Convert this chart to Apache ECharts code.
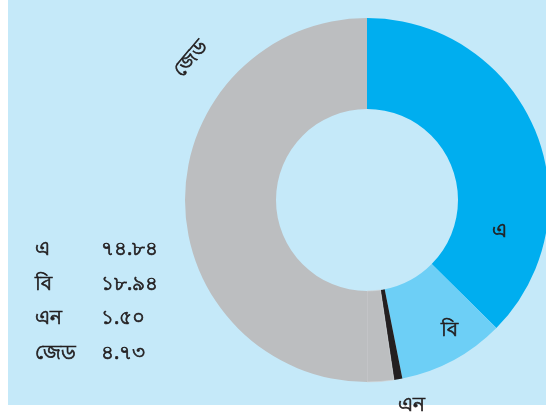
<!DOCTYPE html>
<html>
<head>
<meta charset="utf-8">
<script src="https://cdn.jsdelivr.net/npm/echarts@6/dist/echarts.min.js"></script>
<style>
  html, body { margin: 0; padding: 0; background: #ffffff; }
  #panel { position: absolute; left: 8px; top: 0; width: 538px; height: 405px; background: #c5e9f9; }
  #chart { position: absolute; left: 0; top: 0; width: 546px; height: 417px; }
</style>
</head>
<body>
<div id="panel"></div>
<div id="chart"></div>
<script>
// categories and shares (percent)
var names = ['এ', 'বি', 'এন', 'জেড'];
var shares = [74.84, 18.94, 1.50, 4.73];
var colors = ['#00aeef', '#6dcff6', '#231f20', '#bcbec0'];

var bnDigits = '০১২৩৪৫৬৭৮৯';
function toBengali(v) {
  return v.toFixed(2).replace(/[0-9]/g, function (d) { return bnDigits[+d]; });
}

// the left half of the ring is an empty grey filler
var total = shares.reduce(function (a, b) { return a + b; }, 0);

var data = names.map(function (n, i) {
  var item = { name: n, value: shares[i], itemStyle: { color: colors[i] } };
  if (i === 3) {
    item.itemStyle.borderColor = '#d3d5d6';
    item.itemStyle.borderWidth = 0.6;
  }
  return item;
});
data.push({ name: '', value: total, itemStyle: { color: '#bcbec0' }, label: { show: false } });

// where each slice label sits (the ring runs off the right edge)
var labelSpots = [
  { x: 499, y: 231, rotate: 0 },
  { x: 449, y: 330, rotate: 0 },
  { x: 411, y: 405, rotate: 0 },
  { x: 191, y: 59, rotate: 50 }
];

// heavier strokes, like the printed original
var ink = { color: '#231f20', textBorderColor: '#231f20', textBorderWidth: 0.7, fontSize: 20, fontFamily: 'Noto Sans, sans-serif' };

var chart = echarts.init(document.getElementById('chart'));
var option = {
  animation: false,
  textStyle: { fontFamily: 'Noto Sans, sans-serif' },
  legend: {
    data: names,
    orient: 'vertical',
    left: 24,
    top: 234,
    itemWidth: 0,
    itemHeight: 0,
    itemGap: 14,
    selectedMode: false,
    formatter: function (name) {
      return '{n|' + name + '}{v|' + toBengali(shares[names.indexOf(name)]) + '}';
    },
    textStyle: {
      rich: {
        n: Object.assign({ width: 66 }, ink),
        v: Object.assign({}, ink)
      }
    }
  },
  series: [{
    type: 'pie',
    center: [367, 200],
    radius: [91, 182],
    startAngle: 90,
    clockwise: true,
    silent: true,
    data: data,
    label: Object.assign({
      show: true,
      position: 'inside',
      formatter: '{b}'
    }, ink),
    labelLine: { show: false },
    labelLayout: function (params) {
      var s = labelSpots[params.dataIndex];
      if (!s) return {};
      return { x: s.x, y: s.y, rotate: s.rotate, align: 'center', verticalAlign: 'middle' };
    }
  }]
};
chart.setOption(option);
</script>
</body>
</html>
